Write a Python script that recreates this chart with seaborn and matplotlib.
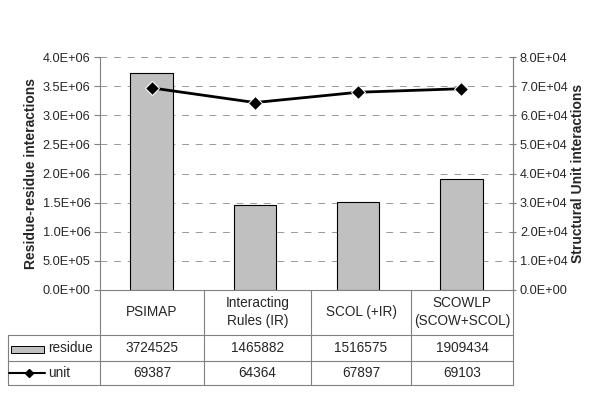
import seaborn as sns
import pandas as pd
import matplotlib.pyplot as plt
from matplotlib.lines import Line2D
from matplotlib.patches import Rectangle
from matplotlib.ticker import FormatStrFormatter

methods = ['PSIMAP', 'Interacting\nRules (IR)', 'SCOL (+IR)', 'SCOWLP\n(SCOW+SCOL)']
residue = [3724525, 1465882, 1516575, 1909434]
unit = [69387, 64364, 67897, 69103]

df = pd.DataFrame({'method': methods, 'residue': residue, 'unit': unit})

sns.set_style('white')
plt.rcParams['font.family'] = ['Liberation Sans', 'DejaVu Sans']

W, H = 600, 398
FS = 9.2
TFS = 9.8
fig = plt.figure(figsize=(6, 3.98), dpi=100)
# plot area in pixels: x 100..513, y 57..290
ax = fig.add_axes([100 / W, 1 - 290 / H, 413 / W, 233 / H])

sns.barplot(data=df, x='method', y='residue', color='#c0c0c0', edgecolor='black',
            linewidth=0.8, width=0.41, saturation=1, ax=ax, zorder=3)
ax.set_ylim(0, 4.0e6)
ax.set_yticks([i * 5e5 for i in range(9)])
ax.yaxis.set_major_formatter(FormatStrFormatter('%.1E'))
ax.set_xlim(-0.5, 3.5)
ax.set_xticks([])
ax.set_xlabel('')
ax.set_ylabel('Residue-residue interactions', fontsize=10, fontweight='bold', labelpad=3)
ax.grid(axis='y', color='#999999', linestyle=(0, (7, 7)), linewidth=0.7, zorder=0)
ax.tick_params(axis='y', labelsize=FS, length=4, color='#808080', direction='out', left=True, pad=3)
ax.spines['top'].set_visible(False)
for s in ['left', 'right', 'bottom']:
    ax.spines[s].set_color('#808080')
    ax.spines[s].set_linewidth(0.8)

ax2 = ax.twinx()
sns.lineplot(data=df, x='method', y='unit', color='black', marker='D', markersize=7,
             linewidth=2, ax=ax2, sort=False, zorder=4)
ax2.set_ylim(0, 8.0e4)
ax2.set_yticks([i * 1e4 for i in range(9)])
ax2.yaxis.set_major_formatter(FormatStrFormatter('%.1E'))
ax2.set_xlim(-0.5, 3.5)
ax2.set_ylabel('Structural Unit interactions', fontsize=10, fontweight='bold', rotation=90, labelpad=2)
ax2.tick_params(axis='y', labelsize=FS, length=4, color='#808080', direction='inout', right=True, pad=3)
for s in ['top', 'left', 'bottom']:
    ax2.spines[s].set_visible(False)
ax2.spines['right'].set_color('#808080')
ax2.spines['right'].set_linewidth(0.8)
ax2.set_xlabel('')


# data table drawn below the axes, in figure pixels
def fx(x):
    return x / W


def fy(y):
    return 1 - y / H


def hline(x0, x1, y):
    fig.add_artist(Line2D([fx(x0), fx(x1)], [fy(y), fy(y)], color='#808080', lw=0.8))


def vline(x, y0, y1):
    fig.add_artist(Line2D([fx(x), fx(x)], [fy(y0), fy(y1)], color='#808080', lw=0.8))


cols = [100, 204, 311, 411, 513]
hline(8, 513, 335)
hline(8, 513, 361)
hline(8, 513, 385)
vline(8, 335, 385)
for c in cols:
    vline(c, 290, 385)

for i, name in enumerate(methods):
    cx = (cols[i] + cols[i + 1]) / 2
    fig.text(fx(cx), fy(312), name, ha='center', va='center', fontsize=TFS, linespacing=1.35)
    fig.text(fx(cx), fy(348), str(residue[i]), ha='center', va='center', fontsize=TFS)
    fig.text(fx(cx), fy(373), str(unit[i]), ha='center', va='center', fontsize=TFS)

fig.add_artist(Rectangle((fx(11), fy(353)), fx(33), 7 / H, facecolor='#c0c0c0',
                         edgecolor='black', lw=0.7))
fig.text(fx(48), fy(348), 'residue', ha='left', va='center', fontsize=TFS)
fig.add_artist(Line2D([fx(9), fx(45)], [fy(373), fy(373)], color='black', lw=1.5))
fig.add_artist(Line2D([fx(29)], [fy(373)], color='black', marker='D', markersize=4.5))
fig.text(fx(48), fy(373), 'unit', ha='left', va='center', fontsize=TFS)

fig.savefig('out.png', dpi=100)
